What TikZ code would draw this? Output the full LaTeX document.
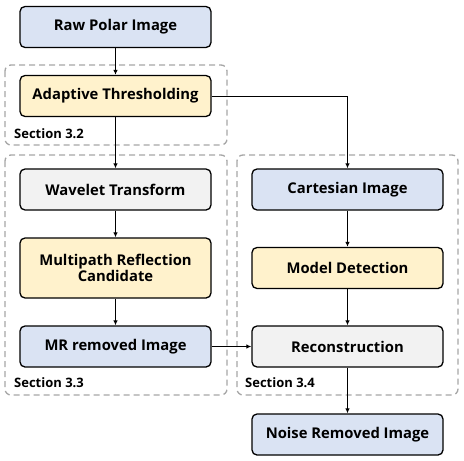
\documentclass[tikz,border=0pt]{standalone}
\usepackage{fontspec}
\setmainfont{Open Sans}
\usetikzlibrary{arrows.meta}

\definecolor{boxblue}{HTML}{DAE3F3}
\definecolor{boxyellow}{HTML}{FFF2CC}
\definecolor{boxgrey}{HTML}{F2F2F2}
\definecolor{secgrey}{HTML}{A6A6A6}

\begin{document}
\begin{tikzpicture}[x=1pt, y=-1pt, font=\bfseries\fontsize{14.8}{16.5}\selectfont,
	stepbox/.style={draw, line width=1.3pt, rounded corners=5pt, minimum width=191pt, minimum height=41pt, align=center, inner sep=2pt},
	section/.style={draw=secgrey, line width=1.3pt, dash pattern=on 6pt off 4pt, rounded corners=6pt},
	seclabel/.style={anchor=west, font=\bfseries\fontsize{13}{15}\selectfont, inner sep=0pt},
	flow/.style={-{Latex[length=5pt,width=4.5pt]}, line width=1pt}]
			\useasboundingbox (0, 0) rectangle (464, 461);
			% section frames
			\draw [section] (5, 65) rectangle (227, 145);
			\draw [section] (5, 155) rectangle (227, 395);
			\draw [section] (237, 155) rectangle (458, 395);
			\node [seclabel] (sec32) at (14, 134) {Section 3.2};
			\node [seclabel] (sec33) at (14, 383) {Section 3.3};
			\node [seclabel] (sec34) at (245, 383) {Section 3.4};
			% left column
			\node [stepbox, fill=boxblue] (raw) at (115.5, 27) {Raw Polar Image};
			\node [stepbox, fill=boxyellow] (adapt) at (115.5, 96) {Adaptive Thresholding};
			\node [stepbox, fill=boxgrey] (wavelet) at (115.5, 189.5) {Wavelet Transform};
			\node [stepbox, fill=boxyellow, minimum height=60pt] (mrcand) at (115.5, 268) {Multipath Reflection\\Candidate};
			\node [stepbox, fill=boxblue] (mrremoved) at (115.5, 346.5) {MR removed Image};
			% right column
			\node [stepbox, fill=boxblue] (cart) at (347.5, 189.5) {Cartesian Image};
			\node [stepbox, fill=boxyellow] (model) at (347.5, 268) {Model Detection};
			\node [stepbox, fill=boxgrey] (recon) at (347.5, 346.5) {Reconstruction};
			\node [stepbox, fill=boxblue] (noise) at (347.5, 434.5) {Noise Removed Image};
			% connectors
			\draw [flow] (raw) -- (adapt);
			\draw [flow] (adapt) -- (wavelet);
			\draw [flow] (wavelet) -- (mrcand);
			\draw [flow] (mrcand) -- (mrremoved);
			\draw [flow] (adapt.east) -| (cart.north);
			\draw [flow] (cart) -- (model);
			\draw [flow] (model) -- (recon);
			\draw [flow] (mrremoved) -- (recon);
			\draw [flow] (recon) -- (noise);
\end{tikzpicture}
\end{document}
